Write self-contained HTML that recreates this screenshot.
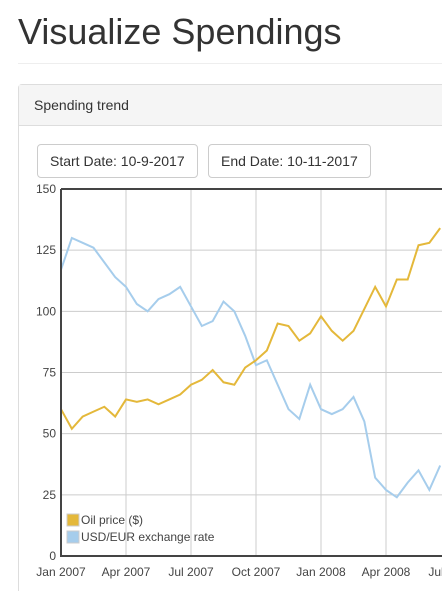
<!DOCTYPE html>
<html style="width:442px;height:591px;overflow:hidden"><head><meta charset="utf-8"><style>
body{margin:0;width:442px;height:591px;overflow:hidden;background:#fff;font-family:"Liberation Sans",sans-serif;color:#333;position:relative}
h1{position:absolute;left:18px;top:11px;margin:0;font-size:36px;font-weight:400;color:#333}
.hr{position:absolute;left:18px;right:0;top:63px;border-top:1px solid #eee}
.panel{position:absolute;left:18px;top:84px;width:440px;height:520px;border:1px solid #ddd;border-radius:4px}
.ph{height:40px;background:#f5f5f5;border-bottom:1px solid #ddd;font-size:14px;line-height:41px;padding-left:15px}
.btn{position:absolute;top:144px;height:32px;border:1px solid #ccc;border-radius:4px;font-size:14px;line-height:32px;padding:0 12px;background:#fff}
svg{position:absolute;left:0;top:0}
</style></head><body>
<h1>Visualize Spendings</h1>
<div class="hr"></div>
<div class="panel"><div class="ph">Spending trend</div></div>
<div class="btn" style="left:37px">Start Date: 10-9-2017</div>
<div class="btn" style="left:208px">End Date: 10-11-2017</div>
<svg id="c" width="442" height="591"></svg>
<script>
const months=[0,0.5,1,1.5,2,2.5,3,3.5,4,4.5,5,5.5,6,6.5,7,7.5,8,8.5,9,9.5,10,10.5,11,11.5,12,12.5,13,13.5,14,14.5,15,15.5,16,16.5,17,17.5];
const oilPrice=[60,52,57,59,61,57,64,63,64,62,64,66,70,72,76,71,70,77,80,84,95,94,88,91,98,92,88,92,101,110,102,113,113,127,128,134];
const usdEur=[117,130,128,126,120,114,110,103,100,105,107,110,102,94,96,104,100,90,78,80,70,60,56,70,60,58,60,65,55,32,27,24,30,35,27,37];
const yTicks=[0,25,50,75,100,125,150];
const xLabels=["Jan 2007","Apr 2007","Jul 2007","Oct 2007","Jan 2008","Apr 2008","Jul 2008"];
const L=61,T=189,B=556,R=442;
const x=m=>L+m*65/3;
const y=v=>B-(v/150)*(B-T);
const s=document.getElementById('c');const NS='http://www.w3.org/2000/svg';
function el(t,a){const e=document.createElementNS(NS,t);for(const k in a)e.setAttribute(k,a[k]);s.appendChild(e);return e;}
yTicks.forEach(v=>{const g=el('line',{x1:L,x2:R,y1:y(v),y2:y(v),stroke:'#ccc','stroke-width':1});


const t=el('text',{x:56,y:y(v)+4,'text-anchor':'end','font-size':12,fill:'#444'});t.textContent=v;

});
xLabels.forEach((lab,i)=>{const xx=x(i*3);const g=el('line',{x1:xx,x2:xx,y1:T,y2:B,stroke:'#ccc','stroke-width':1});


const t=el('text',{x:xx,y:576,'text-anchor':'middle','font-size':12,fill:'#444'});t.textContent=lab;

});
function series(vals,col,name){const p=el('polyline',{points:vals.map((v,i)=>x(months[i])+','+y(v)).join(' '),fill:'none',stroke:col,'stroke-width':2});

}
series(usdEur,'#a6cdec','usd-eur-line');
series(oilPrice,'#e4b83a','oil-price-line');
const ax=el('path',{d:`M${L} ${T}H${R}M${L} ${T}V${B}H${R}`,stroke:'#444','stroke-width':2,fill:'none'});


[['#e4b83a','Oil price ($)',520,'legend-oil'],['#a6cdec','USD/EUR exchange rate',537,'legend-usd-eur']].forEach(([c,t,yy,n])=>{
const r=el('rect',{x:67,y:yy-6,width:12,height:12,fill:c,stroke:'#ccc'});


const tx=el('text',{x:81,y:yy+4,'font-size':12,fill:'#444'});tx.textContent=t;

});
</script>
</body></html>
